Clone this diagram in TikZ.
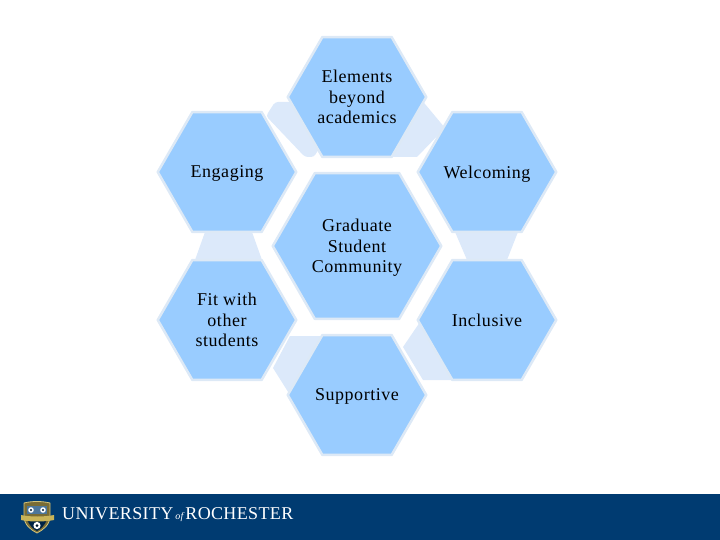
\documentclass[tikz,border=0pt]{standalone}
\usepackage{fontspec}
\setmainfont{Liberation Serif}
\usetikzlibrary{shapes.geometric}
\definecolor{cellblue}{HTML}{99CCFF}
\definecolor{celledge}{HTML}{DDE9F6}
\definecolor{linkblue}{HTML}{DCE9FA}
\definecolor{bandblue}{HTML}{003B71}
\definecolor{crestgold}{HTML}{C9B458}
\begin{document}
\begin{tikzpicture}[
  x=1pt,y=-1pt,
  line join=round,
  every node/.style={font=\fontsize{18}{20.5}\selectfont\addfontfeature{LetterSpace=3}},
  cell/.style={regular polygon,regular polygon sides=6,minimum size=138.5pt,inner sep=-14pt,
    fill=cellblue,draw=celledge,line width=2.5pt,align=center,text=black,text depth=0pt},
  hub/.style={cell,minimum size=168.5pt},
  link/.style={fill=linkblue}
]
% Bounding box.
\useasboundingbox (0,0) rectangle (720,540);
% Light links between the outer cells.
\fill[link,rounded corners=3pt] (275,102)--(266,116)--(305,157)--(314,157)--(330,130)--(300,102)--cycle;
\fill[link] (420,98)--(445,128)--(417,157)--(393,157)--cycle;
\fill[link] (455,232)--(518,232)--(507,260)--(467,260)--cycle;
\fill[link] (420,322)--(403,347)--(423,380)--(452,380)--cycle;
\fill[link] (290,336)--(322,336)--(290,395)--(273,368)--cycle;
\fill[link] (205,232)--(252,232)--(262,260)--(195,260)--cycle;

% The six cells and the hub.
\node[cell] (beyond) at (357,97) {Elements\\beyond\\academics};
\node[cell] (engaging) at (227,172) {Engaging};
\node[cell] (welcoming) at (487,172) {Welcoming};
\node[hub] (community) at (357,246) {Graduate\\Student\\Community};
\node[cell] (fitwith) at (227,320) {Fit with\\other\\students};
\node[cell] (inclusive) at (487,320) {Inclusive};
\node[cell] (supportive) at (357,395) {Supportive};

% Footer band.
\fill[bandblue] (0,494) rectangle (720,540);
\node[anchor=west,inner sep=0pt,text=white,text depth=0pt,
  font=\fontsize{18}{18}\selectfont\addfontfeature{LetterSpace=2}] (wordmark) at (62,513.5)
  {UNIVERSITY\hspace{2pt}{\fontsize{10}{10}\selectfont\itshape of}\hspace{2pt}ROCHESTER};

% Crest.
\fill[crestgold!60!black,draw=crestgold!80!white,line width=.8pt] (24,503) .. controls (32,501) and (42,501) .. (50,503)--(50,516)
  .. controls (50,525) and (43,530) .. (37,533) .. controls (31,530) and (24,525) .. (24,516)--cycle;
\fill[bandblue!70!white] (27,506) rectangle (47,514);
\fill[white] (31,510) circle (2.8pt);
\fill[white] (43,510) circle (2.8pt);
\fill[bandblue!40!black] (31,510) circle (1.2pt);
\fill[bandblue!40!black] (43,510) circle (1.2pt);
\fill[bandblue!60!black] (27,520) .. controls (30,526) and (33,529) .. (37,531) .. controls (41,529) and (44,526) .. (47,520)--cycle;
\fill[crestgold] (21,515) .. controls (30,517) and (44,517) .. (54,515)--(54,520) .. controls (44,522) and (30,522) .. (21,520)--cycle;
\fill[white] (37,525.5) circle (3.6pt);
\fill[bandblue!40!black] (37,525.5) circle (1.5pt);
\end{tikzpicture}
\end{document}
